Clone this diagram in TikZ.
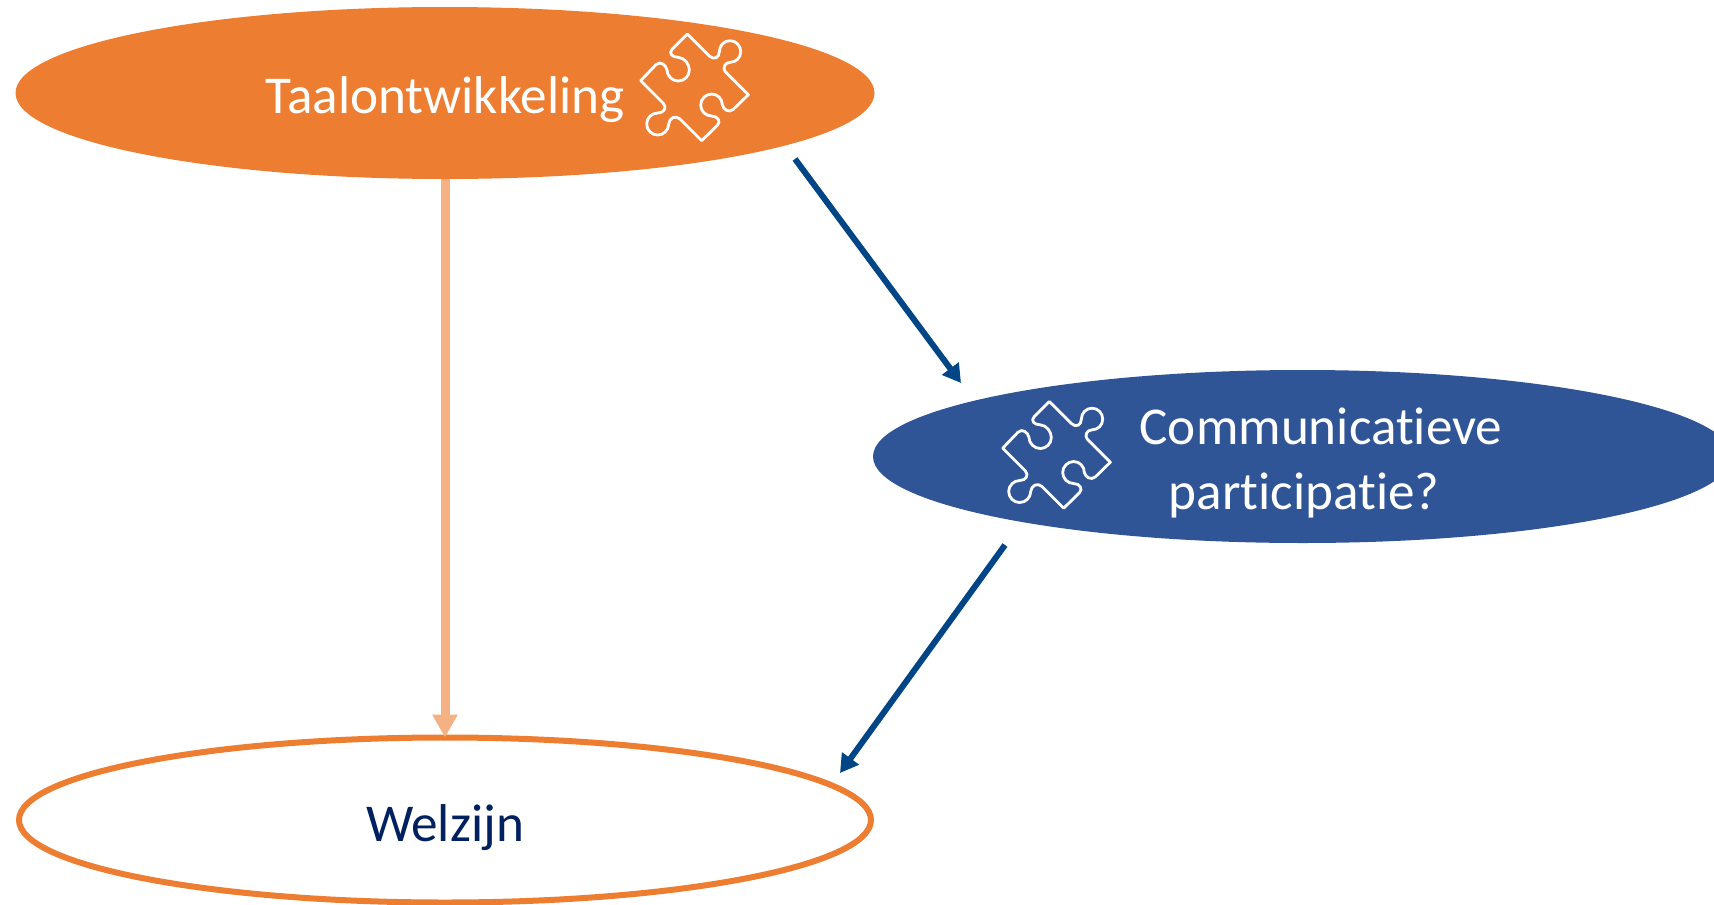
\documentclass[tikz,border=0pt]{standalone}
\usepackage{fontspec}
\setmainfont[Ligatures={NoCommon}]{Carlito}
\usetikzlibrary{arrows.meta,shapes.geometric}
\definecolor{orangeF}{HTML}{ED7D31}
\definecolor{blueF}{HTML}{2F5597}
\definecolor{blueA}{HTML}{004586}
\definecolor{paleA}{HTML}{F4B183}
\definecolor{navyT}{HTML}{002060}
\tikzset{
  oval/.style={ellipse,minimum width=#1,inner sep=0pt,outer sep=0pt},
  lab/.style={font=\fontsize{26.6}{26.6}\selectfont,anchor=base,inner sep=0pt},
  bluearrow/.style={draw=blueA,line width=3pt,-{Triangle[length=9pt,width=10pt]}},
  palearrow/.style={draw=paleA,line width=4.5pt,-{Triangle[length=11.5pt,width=12pt]}},
  puzzle/.pic={
    \draw[white,line width=1.4pt,line join=round,x=0.1667pt,y=-0.1667pt]
      (202,42) -- (268,108)
      .. controls (282,122) and (298,112) .. (298,95)
      .. controls (298,77) and (312,62) .. (330,62)
      .. controls (348,62) and (362,77) .. (362,95)
      .. controls (362,113) and (348,127) .. (330,127)
      .. controls (315,127) and (306,145) .. (316,155)
      -- (385,224) -- (340,268)
      .. controls (326,280) and (310,268) .. (307,255)
      .. controls (307,237) and (293,222) .. (275,222)
      .. controls (257,222) and (242,237) .. (242,255)
      .. controls (242,273) and (257,288) .. (275,288)
      .. controls (295,288) and (303,306) .. (292,316)
      -- (245,362) -- (180,297)
      .. controls (166,284) and (148,294) .. (146,312)
      .. controls (146,330) and (131,345) .. (113,345)
      .. controls (95,345) and (80,330) .. (80,312)
      .. controls (80,294) and (95,279) .. (113,279)
      .. controls (133,279) and (141,262) .. (130,250)
      -- (62,182) -- (108,134)
      .. controls (120,122) and (138,134) .. (141,150)
      .. controls (141,168) and (157,183) .. (175,183)
      .. controls (193,183) and (208,168) .. (208,150)
      .. controls (208,132) and (193,113) .. (175,112)
      .. controls (155,112) and (146,99) .. (156,88)
      -- cycle;
  }
}
\begin{document}
\begin{tikzpicture}[x=0.5pt,y=-0.5pt]
\useasboundingbox (0,0) rectangle (1714,905);
\clip (0,0) rectangle (1714,905);
\node[oval=429.5pt,minimum height=86pt,fill=orangeF] (tao) at (445,93) {};
\node[oval=429.5pt,minimum height=86.5pt,fill=blueF] (com) at (1302.5,456.5) {};
\node[oval=426pt,minimum height=82.5pt,draw=orangeF,fill=white,line width=3pt] (wel) at (445,820) {};
\coordinate (a1s) at (795,159);
\coordinate (a1e) at (961,383);
\coordinate (a2s) at (1005,545);
\coordinate (a2e) at (840,773);
\draw[palearrow] (tao.south) -- (wel.north);
\draw[bluearrow] (a1s) -- (a1e);
\draw[bluearrow] (a2s) -- (a2e);
\node[lab,text=white] (t1) at (445,113) {Taalontwikkeling};
\node[lab,text=white] (t2) at (1321,444) {Communicatieve};
\node[lab,text=white] (t3) at (1304,509) {participatie?};
\node[lab,text=navyT] (t4) at (445,841) {Welzijn};
\pic at (620,20) {puzzle};
\pic at (982,387.5) {puzzle};
\end{tikzpicture}
\end{document}
